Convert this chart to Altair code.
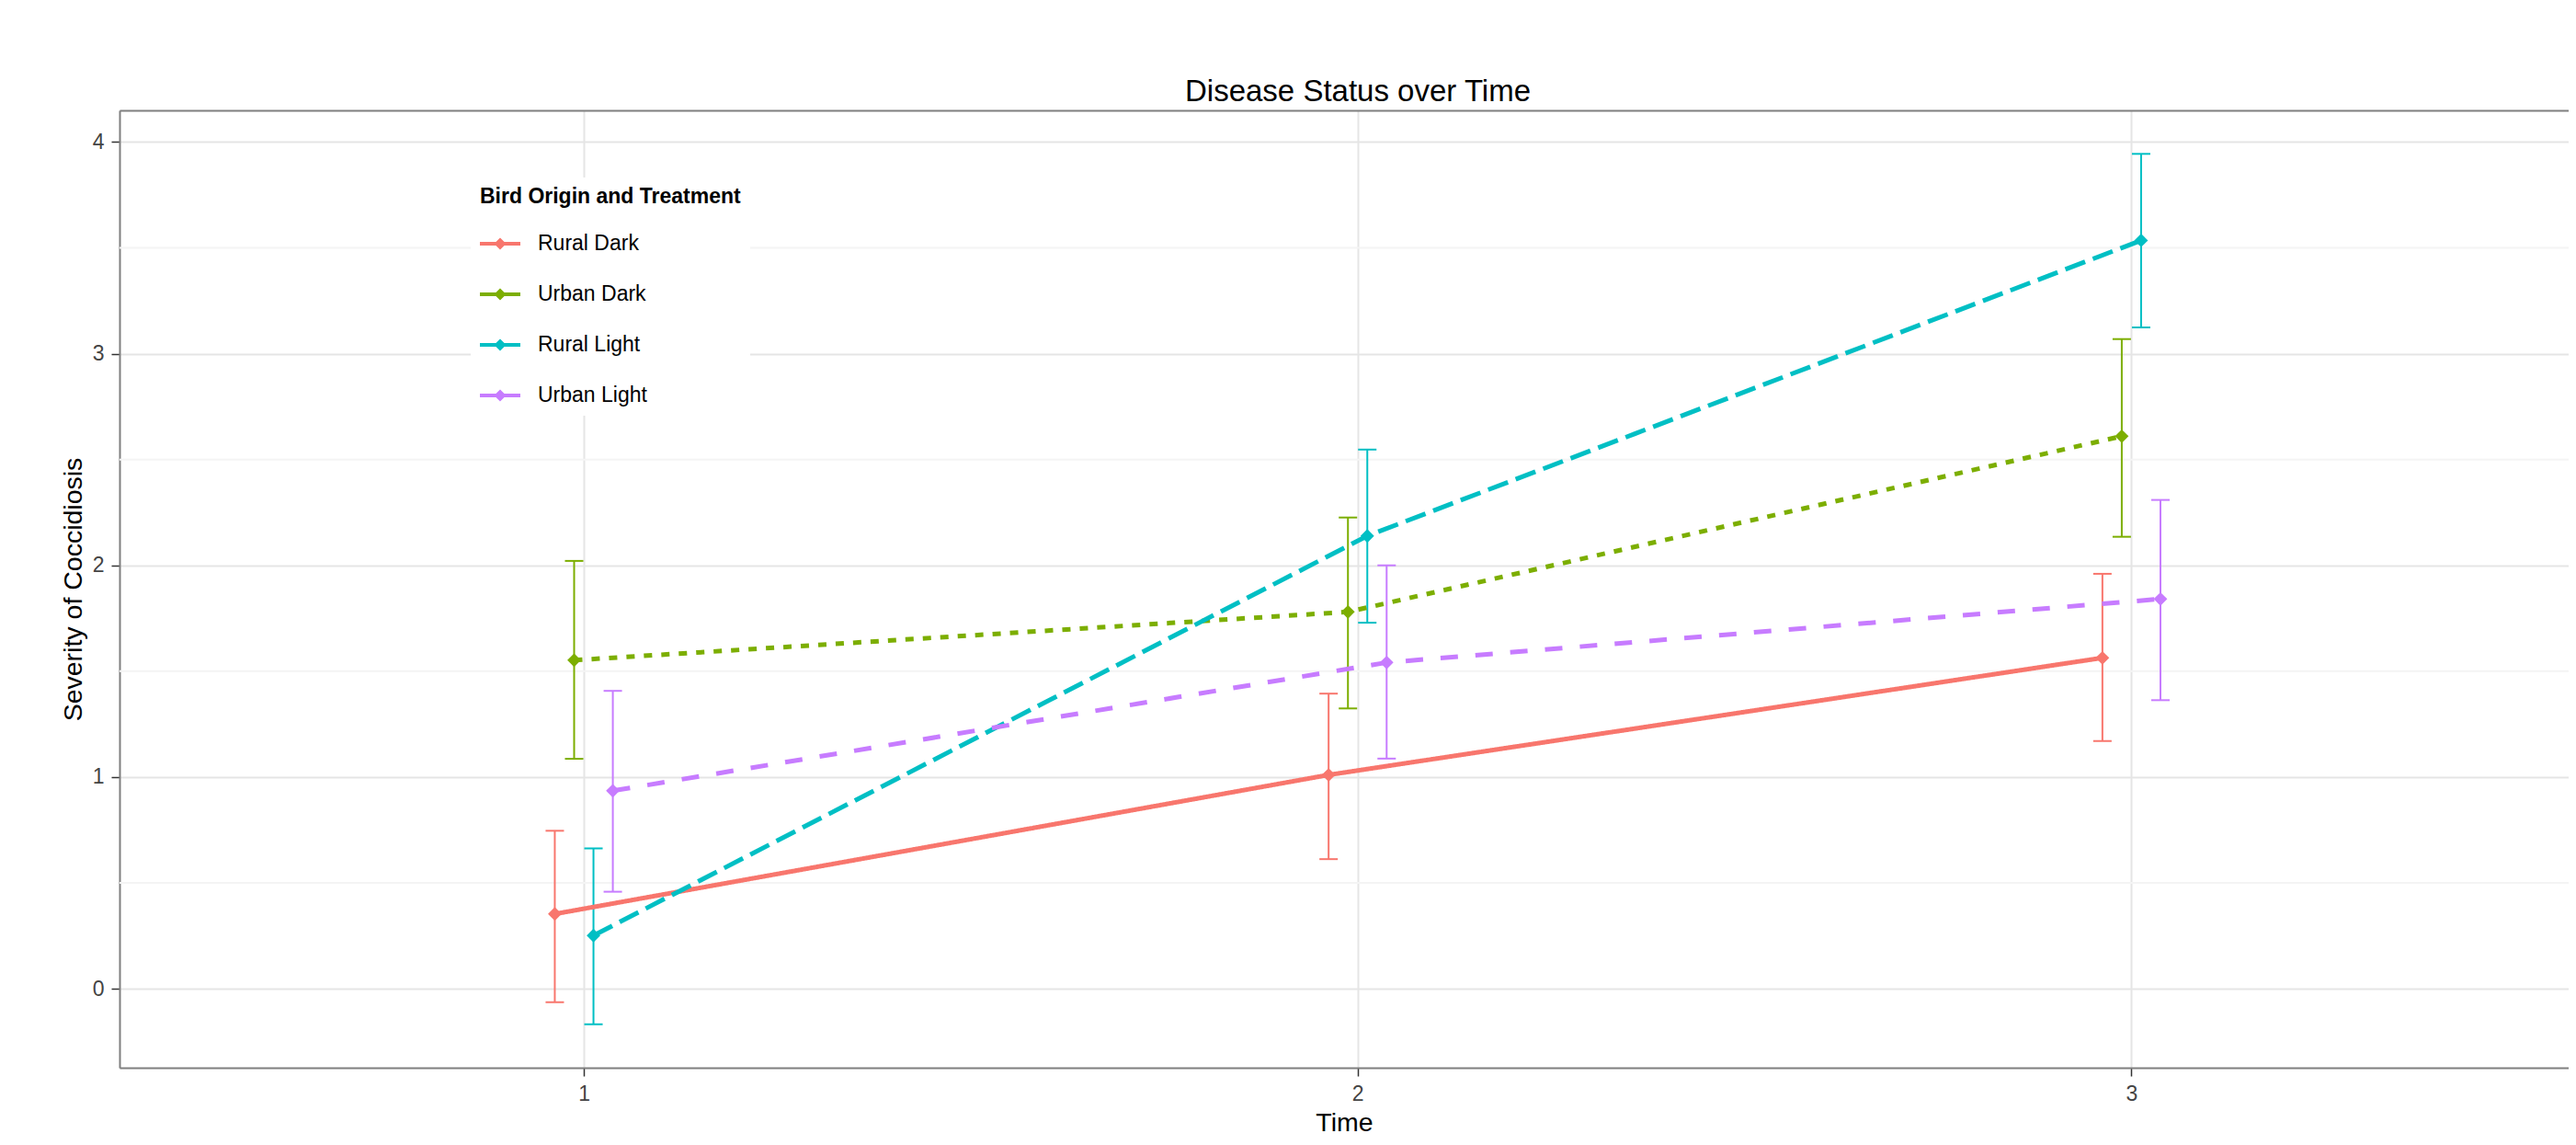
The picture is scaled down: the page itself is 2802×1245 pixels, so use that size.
import altair as alt
import pandas as pd

FONT = "Liberation Sans"

# ---- data ----
series = ["Rural Dark", "Urban Dark", "Rural Light", "Urban Light"]
colors = ["#F8766D", "#7CAE00", "#00BFC4", "#C77CFF"]
dashes = [[1, 0], [9, 10], [23, 9], [19, 19]]
times = [1, 2, 3]

rural_dark_mean = [0.353, 1.010, 1.563]
rural_dark_lower = [-0.064, 0.612, 1.170]
rural_dark_upper = [0.746, 1.394, 1.960]

urban_dark_mean = [1.552, 1.780, 2.610]
urban_dark_lower = [1.086, 1.324, 2.135]
urban_dark_upper = [2.021, 2.226, 3.069]

rural_light_mean = [0.251, 2.139, 3.535]
rural_light_lower = [-0.168, 1.729, 3.124]
rural_light_upper = [0.663, 2.547, 3.944]

urban_light_mean = [0.935, 1.541, 1.841]
urban_light_lower = [0.458, 1.087, 1.363]
urban_light_upper = [1.407, 2.000, 2.309]

y_ticks = [0, 1, 2, 3, 4]
y_minor = [0.5, 1.5, 2.5, 3.5]
x_ticks = [1, 2, 3]

DODGE = 0.025  # position_dodge spacing between groups

table = {
    "Rural Dark": (rural_dark_mean, rural_dark_lower, rural_dark_upper),
    "Urban Dark": (urban_dark_mean, urban_dark_lower, urban_dark_upper),
    "Rural Light": (rural_light_mean, rural_light_lower, rural_light_upper),
    "Urban Light": (urban_light_mean, urban_light_lower, urban_light_upper),
}

rows = []
for i, s in enumerate(series):
    m, lo, hi = table[s]
    for t, a, b, c in zip(times, m, lo, hi):
        rows.append({"series": s, "time": t, "xd": t + (i - 1.5) * DODGE,
                     "mean": a, "lower": b, "upper": c})
df = pd.DataFrame(rows)
minor_df = pd.DataFrame({"v": y_minor})

xscale = alt.Scale(domain=[0.4, 3.565], nice=False, zero=False)
yscale = alt.Scale(domain=[-0.3736, 4.1496], nice=False, zero=False)

# colour legend scale
color_scale = alt.Scale(domain=series, range=colors)
# legend-less scales: same mapping, listed in reverse so Vega-Lite does not
# merge them (and their disabled legends) into the colour legend
def rev_color():
    return alt.Scale(domain=series[::-1], range=colors[::-1])

dash_scale = alt.Scale(domain=series[::-1], range=dashes[::-1])

BORDER = "#7F7F7F"

x_axis_bottom = alt.Axis(
    values=x_ticks, format="d", grid=True, gridColor="#E5E5E5", gridWidth=2,
    domainColor=BORDER, domainWidth=2, tickColor="#333333", tickSize=9, tickWidth=1.5,
    labelFont=FONT, labelFontSize=23, labelColor="#444444", labelPadding=8,
    title="Time", titleFont=FONT, titleFontSize=28.5, titleFontWeight="normal",
    titleColor="black", titlePadding=5,
)
x_axis_top = alt.Axis(
    orient="top", labels=False, ticks=False, grid=False, title=None,
    domainColor=BORDER, domainWidth=2,
)
y_axis = alt.Axis(
    values=y_ticks, format="d", grid=True, gridColor="#E5E5E5", gridWidth=2,
    domainColor=BORDER, domainWidth=2, tickColor="#333333", tickSize=9, tickWidth=1.5,
    labelFont=FONT, labelFontSize=23, labelColor="#444444", labelPadding=8,
    title="Severity of Coccidiosis", titleFont=FONT, titleFontSize=28.5,
    titleFontWeight="normal", titleColor="black", titlePadding=6,
)

# legend key: horizontal bar with a diamond on it (filled shapes only)
LEG_PATH = "M-1,-0.09H1V0.09H-1Z M0,-0.3L0.3,0L0,0.3L-0.3,0Z"
legend = alt.Legend(
    title="Bird Origin and Treatment", orient="none", legendX=382, legendY=73,
    fillColor="white", padding=10,
    titleFont=FONT, titleFontSize=23, titleFontWeight="bold", titleColor="black",
    titlePadding=17, titleLimit=800,
    labelFont=FONT, labelFontSize=23, labelColor="black", labelOffset=19, labelLimit=600,
    symbolType=LEG_PATH, symbolSize=1936, symbolStrokeWidth=0, symbolOpacity=1,
    rowPadding=21,
)

base = alt.Chart(df)

minor = alt.Chart(minor_df).mark_rule(color="#F4F4F4", strokeWidth=2).encode(
    y=alt.Y("v:Q", scale=yscale, axis=y_axis)
)

bars = base.mark_rule(strokeWidth=2).encode(
    x=alt.X("xd:Q", scale=xscale, axis=x_axis_bottom),
    y=alt.Y("lower:Q", scale=yscale, axis=y_axis),
    y2="upper:Q",
    stroke=alt.Stroke("series:N", scale=rev_color(), legend=None),
)

caps = base.transform_fold(["lower", "upper"], as_=["bound", "yv"]).mark_tick(
    orient="horizontal", size=20, thickness=2, opacity=1
).encode(
    x=alt.X("xd:Q", scale=xscale, axis=None),
    y=alt.Y("yv:Q", scale=yscale, axis=y_axis),
    fill=alt.Fill("series:N", scale=rev_color(), legend=None),
)

lines = base.mark_line(strokeWidth=5).encode(
    x=alt.X("xd:Q", scale=xscale, axis=None),
    y=alt.Y("mean:Q", scale=yscale, axis=y_axis),
    stroke=alt.Stroke("series:N", scale=rev_color(), legend=None),
    strokeDash=alt.StrokeDash("series:N", scale=dash_scale, legend=None),
)

points = base.mark_point(shape="diamond", filled=True, size=220, opacity=1).encode(
    x=alt.X("xd:Q", scale=xscale, axis=x_axis_top),
    y=alt.Y("mean:Q", scale=yscale, axis=y_axis),
    color=alt.Color("series:N", scale=color_scale, legend=legend),
)

chart = alt.layer(minor, bars, caps, lines, points).resolve_axis(x="independent").properties(
    width=2664, height=1041,
    padding={"left": 122, "top": 112, "right": 0, "bottom": 73},
    autosize=alt.AutoSizeParams(type="none"),
    title=alt.TitleParams(
        "Disease Status over Time", font=FONT, fontSize=33, fontWeight="normal",
        color="black", anchor="middle", frame="group", dx=15, offset=3,
    ),
).configure_view(stroke=None).configure(background="white")

chart.save("out.html", embed_options={"renderer": "svg", "actions": False})
